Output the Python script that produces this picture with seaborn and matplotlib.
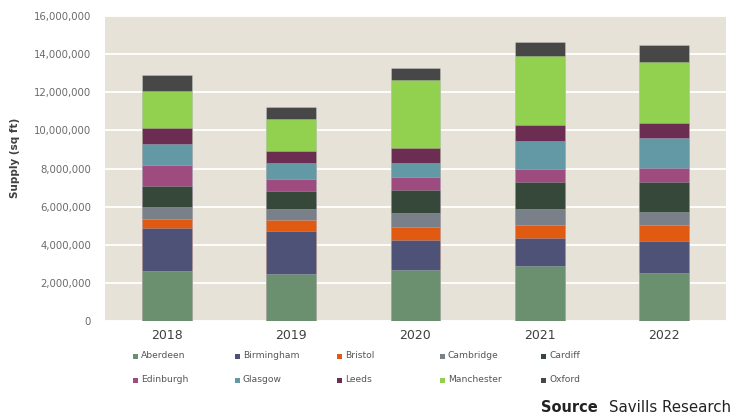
import matplotlib
matplotlib.use("Agg")
import matplotlib.pyplot as plt
import matplotlib.ticker as mticker
from matplotlib.patches import Rectangle
import seaborn as sns
import pandas as pd
import numpy as np

years = ["2018", "2019", "2020", "2021", "2022"]
cities = ["Aberdeen", "Birmingham", "Bristol", "Cambridge", "Cardiff",
          "Edinburgh", "Glasgow", "Leeds", "Manchester", "Oxford"]
aberdeen = [2630000, 2470000, 2650000, 2890000, 2530000]
birmingham = [2270000, 2250000, 1620000, 1490000, 1670000]
bristol = [470000, 560000, 650000, 640000, 860000]
cambridge = [590000, 610000, 760000, 840000, 680000]
cardiff = [1110000, 920000, 1210000, 1410000, 1540000]
edinburgh = [1100000, 630000, 680000, 690000, 740000]
glasgow = [1120000, 870000, 740000, 1500000, 1590000]
leeds = [850000, 630000, 790000, 840000, 760000]
manchester = [1950000, 1670000, 3520000, 3590000, 3240000]
oxford = [810000, 630000, 650000, 740000, 860000]

colors = ["#6B9070", "#4E5277", "#E05A12", "#7A8089", "#35483A",
          "#9E4B80", "#6299A4", "#6B2D52", "#92D050", "#474747"]

series = [aberdeen, birmingham, bristol, cambridge, cardiff,
          edinburgh, glasgow, leeds, manchester, oxford]

df = pd.DataFrame({c: s for c, s in zip(cities, series)}, index=years)
cum = df.cumsum(axis=1)

sns.set_theme(style="white")
plt.rcParams["font.family"] = ["DejaVu Sans"]

fig = plt.figure(figsize=(7.32, 4.17), dpi=100)
ax = fig.add_axes([105 / 732, (417 - 321) / 417, (726 - 105) / 732, (321 - 16) / 417])
ax.set_facecolor("#E6E2D8")

for i in range(len(cities) - 1, -1, -1):
    c = cities[i]
    d = pd.DataFrame({"year": years, "value": cum[c].values})
    sns.barplot(data=d, x="year", y="value", order=years, color=colors[i],
                width=0.4, saturation=1, edgecolor=(1, 1, 1, 0.25),
                linewidth=0.6, ax=ax, zorder=3)

ax.set_ylim(0, 16000000)
ax.set_yticks(np.arange(0, 16000001, 2000000))
ax.yaxis.set_major_formatter(mticker.FuncFormatter(lambda v, p: f"{int(v):,}"))
ax.grid(axis="y", color="white", linewidth=1.3, zorder=0)
ax.set_axisbelow(True)
for s in ax.spines.values():
    s.set_visible(False)
ax.tick_params(axis="y", length=0, pad=10, labelsize=7.3, labelcolor="#6a6a6a")
ax.tick_params(axis="x", length=0, pad=6, labelsize=9, labelcolor="#404040")
ax.set_xlabel("")
ax.set_ylabel("")

fig.text(15 / 732, (417 - 158) / 417, "Supply (sq ft)", rotation=90,
         ha="center", va="center", fontsize=7.5, fontweight="bold", color="#404040")

# legend
col_x = [133, 235, 337, 440, 541]
row_y = [356, 380]
for i, c in enumerate(cities):
    r, k = divmod(i, 5)
    x = col_x[k]
    y = row_y[r]
    fig.add_artist(Rectangle((x / 732, (417 - y - 2.5) / 417), 5 / 732, 5 / 417,
                             transform=fig.transFigure, facecolor=colors[i],
                             edgecolor="none"))
    fig.text((x + 8) / 732, (417 - y) / 417, c, ha="left", va="center",
             fontsize=6.6, color="#555555")

fig.text(598 / 732, (417 - 408) / 417, "Source", ha="right", va="center",
         fontsize=10.5, fontweight="bold", color="#222222")
fig.text(731 / 732, (417 - 408) / 417, "Savills Research", ha="right", va="center",
         fontsize=10.8, color="#222222")

fig.savefig("out.png", dpi=100)
